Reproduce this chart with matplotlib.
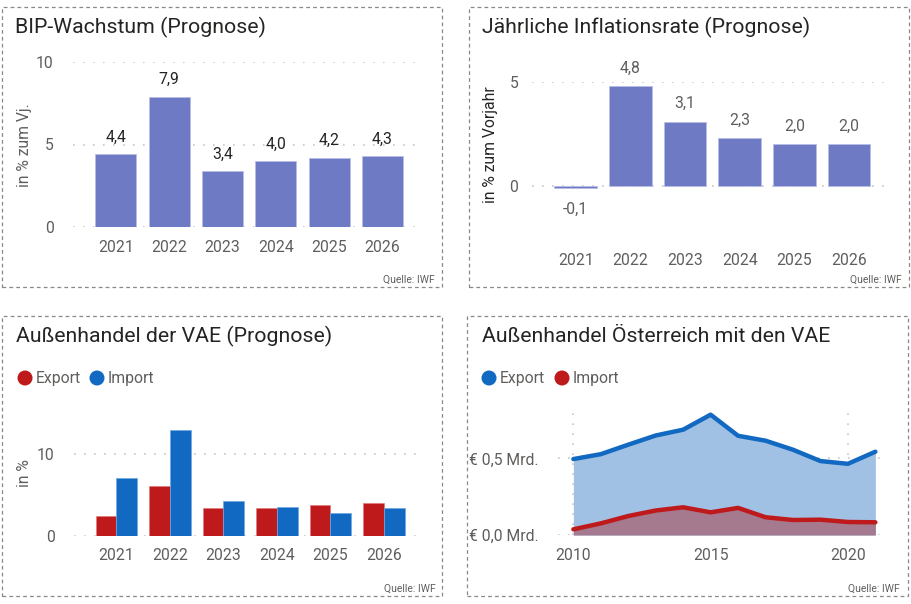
import matplotlib
matplotlib.use("Agg")
import matplotlib.pyplot as plt
from matplotlib.patches import Rectangle, Ellipse
import numpy as np

plt.rcParams['font.family'] = ['Roboto', 'DejaVu Sans']

# ---------------- data ----------------
years_fc = ["2021", "2022", "2023", "2024", "2025", "2026"]
bip_values = [4.4, 7.9, 3.4, 4.0, 4.2, 4.3]
infl_values = [-0.1, 4.8, 3.1, 2.3, 2.0, 2.0]
vae_export = [2.45, 6.05, 3.47, 3.47, 3.8, 4.08]
vae_import = [7.06, 12.9, 4.29, 3.59, 2.78, 3.43]
at_years = [2010, 2011, 2012, 2013, 2014, 2015, 2016, 2017, 2018, 2019, 2020, 2021]
at_export = [0.496, 0.528, 0.59, 0.65, 0.688, 0.786, 0.648, 0.616, 0.557, 0.483, 0.465, 0.544]
at_import = [0.037, 0.076, 0.124, 0.16, 0.181, 0.148, 0.177, 0.116, 0.098, 0.1, 0.085, 0.083]

titles = ["BIP-Wachstum (Prognose)", "Jährliche Inflationsrate (Prognose)",
          "Außenhandel der VAE (Prognose)", "Außenhandel Österreich mit den VAE"]
source = "Quelle: IWF"

# ---------------- style ----------------
W, H = 912, 604
BAR = "#6F7AC5"
RED = "#BE1A1C"
BLUE = "#1169C1"
FILL_BLUE = "#A0C1E4"
FILL_RED = "#A57A8E"
TXT = "#252423"
GREY = "#605E5C"
GRID = "#C8C6C4"
TICK_FS = 11.3
TITLE_FS = 15.3

fig = plt.figure(figsize=(W / 100, H / 100), dpi=100)


def fx(px):
    return px / W


def fy(py):
    return 1 - py / H


def add_axes_px(x0, x1, y_top, y_bot):
    return fig.add_axes([fx(x0), fy(y_bot), fx(x1) - fx(x0), (y_bot - y_top) / H])


def frame(x0, y0, x1, y1):
    r = Rectangle((fx(x0), fy(y1)), fx(x1) - fx(x0), (y1 - y0) / H,
                  transform=fig.transFigure, fill=False, edgecolor="#8A8886",
                  linewidth=0.9, linestyle=(0, (3, 2.5)))
    fig.patches.append(r)


def style_axes(ax):
    for s in ax.spines.values():
        s.set_visible(False)
    ax.tick_params(axis="both", length=0, labelsize=TICK_FS, labelcolor=GREY)
    ax.grid(axis="y", color=GRID, linestyle=(0, (1, 5)), linewidth=1.2)
    ax.set_axisbelow(True)


def legend_px(items, y):
    for cx, tx, color, label in items:
        c = Ellipse((fx(cx), fy(y)), 15 / W, 15 / H, transform=fig.transFigure,
                    facecolor=color, edgecolor="none")
        fig.patches.append(c)
        fig.text(fx(tx), fy(y), label, fontsize=TICK_FS, color=GREY, va="center", ha="left")


# frames
frame(2, 7, 442, 287)
frame(469, 7, 909, 287)
frame(2, 316, 442, 596)
frame(467, 316, 908, 596)

# titles and sources
fig.text(fx(15), fy(27), titles[0], fontsize=TITLE_FS, color=TXT, va="center")
fig.text(fx(482), fy(27), titles[1], fontsize=TITLE_FS, color=TXT, va="center")
fig.text(fx(16), fy(336), titles[2], fontsize=TITLE_FS, color=TXT, va="center")
fig.text(fx(482), fy(336), titles[3], fontsize=TITLE_FS, color=TXT, va="center")
for x, y in [(435, 280), (902, 280), (436, 589), (900, 589)]:
    fig.text(fx(x), fy(y), source, fontsize=7.5, color=GREY, ha="right", va="center")

# ---------------- panel 1 ----------------
ax1 = add_axes_px(73, 422, 62, 227)
style_axes(ax1)
x = np.arange(len(years_fc))
ax1.bar(x, bip_values, width=0.77, color=BAR, edgecolor="#B8BEE6", linewidth=0.6)
ax1.set_xlim(-0.8, 5.74)
ax1.set_ylim(0, 10)
ax1.set_yticks([0, 5, 10])
ax1.set_xticks(x)
ax1.set_xticklabels(years_fc)
ax1.tick_params(axis="x", pad=9)
ax1.tick_params(axis="y", pad=14)
for xi, v in zip(x, bip_values):
    ax1.annotate(f"{v:.1f}".replace(".", ","), (xi, v), xytext=(0, 17), textcoords="offset pixels",
                 ha="center", va="center", fontsize=TICK_FS, color=TXT)
fig.text(fx(25), fy(145), "in % zum Vj.", rotation=90, fontsize=TICK_FS, color=GREY,
         ha="center", va="center")

# ---------------- panel 2 ----------------
ax2 = add_axes_px(532, 889, 82, 186 + 0.6 * 20.8)
style_axes(ax2)
ax2.bar(x, infl_values, width=0.78, color=BAR, edgecolor="#B8BEE6", linewidth=0.6)
ax2.set_xlim(-0.8, 5.73)
ax2.set_ylim(-0.6, 5)
ax2.set_yticks([0, 5])
ax2.set_xticks(x)
ax2.set_xticklabels(years_fc)
ax2.tick_params(axis="x", pad=39)
ax2.tick_params(axis="y", pad=10)
for xi, v in zip(x, infl_values):
    off = 18 if v >= 0 else -21
    ax2.annotate(f"{v:.1f}".replace(".", ","), (xi, v), xytext=(0, off),
                 textcoords="offset pixels", ha="center", va="center", fontsize=TICK_FS,
                 color=GREY, annotation_clip=False)
fig.text(fx(491), fy(145), "in % zum Vorjahr", rotation=90, fontsize=TICK_FS, color=TXT,
         ha="center", va="center")

# ---------------- panel 3 ----------------
ax3 = add_axes_px(74, 422, 454 - 8.2 * 3.5, 536)
style_axes(ax3)
bw = 0.387
ax3.bar(x - bw / 2, vae_export, width=bw, color=RED, edgecolor="#E07A7C", linewidth=0.5)
ax3.bar(x + bw / 2, vae_import, width=bw, color=BLUE, edgecolor="#6FA8E0", linewidth=0.5)
ax3.set_xlim(-0.79, 5.71)
ax3.set_ylim(0, 13.5)
ax3.set_yticks([0, 10])
ax3.set_xticks(x)
ax3.set_xticklabels(years_fc)
ax3.tick_params(axis="x", pad=9)
ax3.tick_params(axis="y", pad=14)
fig.text(fx(25), fy(473), "in %", rotation=90, fontsize=TICK_FS, color=GREY,
         ha="center", va="center")
legend_px([(25, 36, RED, "Export"), (97, 108, BLUE, "Import")], 378)

# ---------------- panel 4 ----------------
ax4 = add_axes_px(558, 888, 411, 535)
for s in ax4.spines.values():
    s.set_visible(False)
ax4.tick_params(axis="both", length=0, labelsize=TICK_FS, labelcolor=GREY)
ax4.grid(axis="both", color=GRID, linestyle=(0, (1, 5)), linewidth=1.2)
ax4.set_axisbelow(True)
ax4.fill_between(at_years, at_export, 0, color=FILL_BLUE, linewidth=0, zorder=1)
ax4.fill_between(at_years, at_import, 0, color=FILL_RED, linewidth=0, zorder=2)
ax4.plot(at_years, at_export, color=BLUE, linewidth=3.2, solid_capstyle="round",
         solid_joinstyle="round", zorder=3)
ax4.plot(at_years, at_import, color=RED, linewidth=3.2, solid_capstyle="round",
         solid_joinstyle="round", zorder=3)
ax4.set_xlim(2009.44, 2021.46)
ax4.set_ylim(0, 0.81)
ax4.set_yticks([0, 0.5])
ax4.set_yticklabels(["€ 0,0 Mrd.", "€ 0,5 Mrd."])
ax4.set_xticks([2010, 2015, 2020])
ax4.tick_params(axis="x", pad=9)
ax4.tick_params(axis="y", pad=14)
legend_px([(489, 500, BLUE, "Export"), (562, 573, RED, "Import")], 378)

fig.savefig("out.png", dpi=100)
